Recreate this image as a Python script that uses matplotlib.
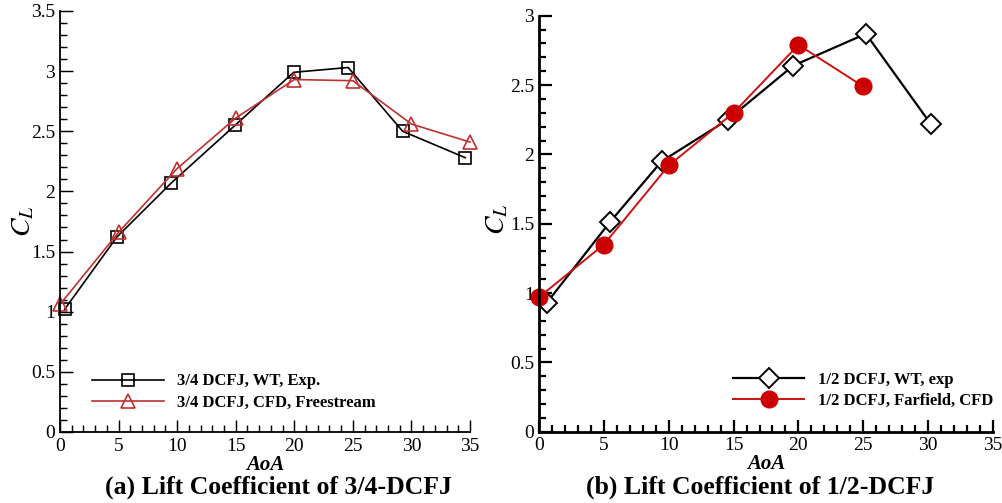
import matplotlib
matplotlib.use('Agg')
import matplotlib.pyplot as plt
from matplotlib.ticker import MultipleLocator

plt.rcParams['font.family'] = ['Liberation Serif', 'DejaVu Serif']
plt.rcParams['mathtext.fontset'] = 'stix'

# (a) 3/4 DCFJ
aoa_exp_a = [0.4, 4.85, 9.5, 14.95, 19.95, 24.6, 29.25, 34.6]
cl_exp_a = [1.02, 1.62, 2.07, 2.55, 2.99, 3.03, 2.50, 2.28]
aoa_cfd_a = [0.0, 5.0, 10.0, 15.0, 20.0, 25.0, 30.0, 35.0]
cl_cfd_a = [1.06, 1.66, 2.19, 2.61, 2.93, 2.92, 2.56, 2.41]

# (b) 1/2 DCFJ
aoa_exp_b = [0.6, 5.45, 9.45, 14.55, 19.6, 25.2, 30.2]
cl_exp_b = [0.93, 1.51, 1.95, 2.25, 2.64, 2.87, 2.22]
aoa_cfd_b = [0.0, 5.0, 10.0, 15.0, 20.0, 25.0]
cl_cfd_b = [0.97, 1.35, 1.92, 2.30, 2.79, 2.49]

fig = plt.figure(figsize=(10.03, 5.03), dpi=100)
ax1 = fig.add_axes([0.0598, 0.1412, 0.4088, 0.837])
ax2 = fig.add_axes([0.5374, 0.1417, 0.4526, 0.827])


def style(ax, ymax, lw, ylab_x, ylab_y):
    for s in ['top', 'right']:
        ax.spines[s].set_visible(False)
    for s in ['left', 'bottom']:
        ax.spines[s].set_linewidth(lw)
    ax.set_xlim(0, 35)
    ax.set_ylim(0, ymax)
    ax.xaxis.set_major_locator(MultipleLocator(5))
    ax.xaxis.set_minor_locator(MultipleLocator(1))
    ax.yaxis.set_major_locator(MultipleLocator(0.5))
    ax.yaxis.set_minor_locator(MultipleLocator(0.1))
    ax.tick_params(which='both', direction='in', labelsize=14, width=lw * 0.8)
    ax.tick_params(which='major', length=9)
    ax.tick_params(which='minor', length=5)
    ax.tick_params(axis='x', pad=4)
    ax.set_yticks([v * 0.5 for v in range(int(ymax / 0.5) + 1)])
    ax.set_yticklabels(['%g' % (v * 0.5) for v in range(int(ymax / 0.5) + 1)])
    ax.set_xlabel('AoA', fontsize=15, fontweight='bold', style='italic', labelpad=0)
    ax.set_ylabel(r'$\boldsymbol{C_L}$', fontsize=20)
    ax.yaxis.set_label_coords(ylab_x, ylab_y)
    ax.patch.set_alpha(0)


ax1.plot(aoa_exp_a, cl_exp_a, color='black', lw=1.2, marker='s', ms=9,
         mfc='none', mec='black', mew=1.2, label='3/4 DCFJ, WT, Exp.', clip_on=False)
ax1.plot(aoa_cfd_a, cl_cfd_a, color='#c03030', lw=1.2, marker='^', ms=10,
         mfc='none', mec='#c03030', mew=1.2, label='3/4 DCFJ, CFD, Freestream', clip_on=False)
style(ax1, 3.5, 1.3, -0.058, 0.5)
ax1.legend(loc='center left', bbox_to_anchor=(0.063, 0.095), borderaxespad=0,
           frameon=False, prop={'weight': 'bold', 'size': 12}, handlelength=4.3,
           handletextpad=0.8, labelspacing=0.3)

ax2.plot(aoa_exp_b, cl_exp_b, color='black', lw=1.6, marker='D', ms=10,
         mfc='white', mec='black', mew=1.4, label='1/2 DCFJ, WT, exp', clip_on=False)
ax2.plot(aoa_cfd_b, cl_cfd_b, color='#cc1111', lw=1.4, marker='o', ms=12,
         mfc='#cc0000', mec='#cc0000', label='1/2 DCFJ, Farfield, CFD', clip_on=False)
style(ax2, 3.0, 2.0, -0.063, 0.51)
ax2.legend(loc='center right', bbox_to_anchor=(1.015, 0.10), borderaxespad=0,
           frameon=False, prop={'weight': 'bold', 'size': 12}, handlelength=4.3,
           handletextpad=0.8, labelspacing=0.3)

fig.text(0.278, 0.032, '(a) Lift Coefficient of 3/4-DCFJ', ha='center', va='center',
         fontsize=18.5, fontweight='bold')
fig.text(0.758, 0.032, '(b) Lift Coefficient of 1/2-DCFJ', ha='center', va='center',
         fontsize=18.5, fontweight='bold')

plt.savefig('out.png', dpi=100)
